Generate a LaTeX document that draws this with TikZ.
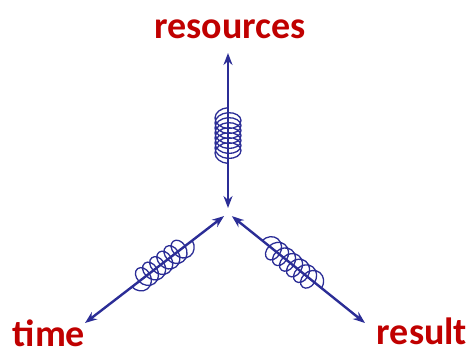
\documentclass[tikz,border=0pt]{standalone}
\usepackage{fontspec}
\setmainfont{Carlito}
\usepackage{tikz}
\usetikzlibrary{positioning,arrows.meta,calc,decorations.pathmorphing}
\definecolor{axisblue}{HTML}{2B2D96}
\definecolor{labelred}{HTML}{C00000}

\begin{document}
\begin{tikzpicture}[x=1pt, y=-1pt,
    every node/.style={font=\fontsize{38}{40}\selectfont\bfseries, text=labelred, inner sep=0pt},
    axis/.style={draw=axisblue, line width=2.4pt, {Stealth[length=12pt,width=9pt]}-{Stealth[length=12pt,width=9pt]}},
    spring/.style={draw=axisblue, line width=1.3pt, decorate, decoration={coil, amplitude=#1}}]
    \useasboundingbox (0,0) rectangle (476,354);

    % Meeting point and ends of the three axes
    \coordinate (o) at (228,213);
    \coordinate (top) at (228,53);
    \coordinate (left) at (85,323);
    \coordinate (right) at (365,323);

    % Labels
    \node[anchor=base] (resources) at (230,38) {resources};
    \node[anchor=base] (time) at (49,346) {time};
    \node[anchor=base] (result) at (422,344) {result};

    % Axes
    \draw[axis, shorten <=5pt] (o) -- (top);
    \draw[axis, shorten <=5pt] (o) -- (left);
    \draw[axis, shorten <=5pt] (o) -- (right);

    % Springs
    \draw[spring=13pt, decoration={segment length=5pt, aspect=0.7}] ($(o)!0.31!(top)$) -- ($(o)!0.66!(top)$);
    \draw[spring=11pt, decoration={segment length=9pt, aspect=0.8}] ($(o)!0.25!(left)$) -- ($(o)!0.69!(left)$);
    \draw[spring=11pt, decoration={segment length=9pt, aspect=0.8}] ($(o)!0.25!(right)$) -- ($(o)!0.69!(right)$);
\end{tikzpicture}
\end{document}
